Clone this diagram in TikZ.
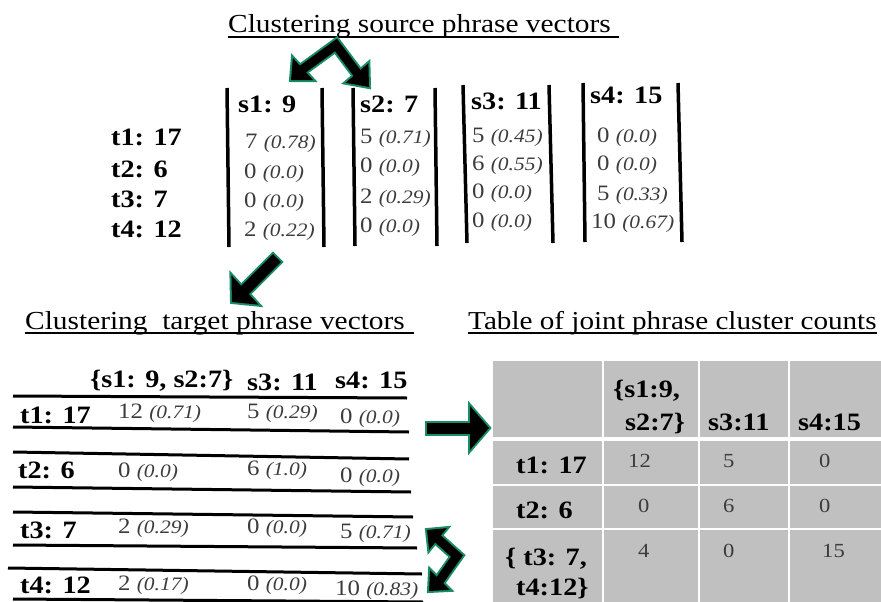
\documentclass[tikz,border=0pt]{standalone}
\usepackage{fontspec}
\setmainfont{Liberation Serif}[FakeStretch=1.13]
\usetikzlibrary{calc}
\definecolor{valgray}{RGB}{60,60,60}
\definecolor{edgegreen}{RGB}{25,140,105}
\definecolor{cellgray}{RGB}{192,192,192}

% count with its share in brackets
\newcommand\pv[2]{#1 {\fontsize{19}{19}\selectfont\itshape(#2)}}
% triangular head of a block arrow: base centre, tip, half width
\newcommand\headpath[3]{(#2) -- ($(#1)!#3!90:(#2)$) -- ($(#1)!#3!-90:(#2)$) -- cycle}

\begin{document}
\begin{tikzpicture}[x=1pt,y=-1pt,
  lbl/.style={anchor=base west, inner sep=0pt, font=\fontsize{25}{25}\selectfont\bfseries},
  num/.style={anchor=base west, inner sep=0pt, text=valgray, font=\fontsize{22}{22}\selectfont},
  cnt/.style={anchor=base west, inner sep=0pt, text=valgray, font=\fontsize{20}{20}\selectfont},
  heading/.style={anchor=base west, inner sep=0pt, font=\fontsize{26}{26}\selectfont},
  uline/.style={line width=1.4pt},
  colbar/.style={line width=3.5pt},
  rowrule/.style={line width=3pt},
  rimline/.style={draw=edgegreen, line cap=rect, line join=miter},
  coreline/.style={draw=black, line cap=rect, line join=miter},
  rimhead/.style={fill=edgegreen, draw=edgegreen, line width=4pt, line join=miter},
  gridline/.style={white, line width=2pt},
]
\useasboundingbox (0,0) rectangle (881,602);

% ---------- source phrase vectors ----------
\node[heading] (ttlsrc) at (228,33) {Clustering source phrase vectors};
\draw[uline] ([yshift=-4pt]ttlsrc.base west) -- ([yshift=-4pt,xshift=8pt]ttlsrc.base east);

% column brackets
\draw[colbar] (227,88) -- (229,247);
\draw[colbar] (322,88) -- (324,247);
\draw[colbar] (353,88) -- (355,246);
\draw[colbar] (435,88) -- (437,246);
\draw[colbar] (463,85) -- (467,243);
\draw[colbar] (549,85) -- (553,243);
\draw[colbar] (583,83) -- (585,242);
\draw[colbar] (678,83) -- (682,242);

\node[lbl] (hs1) at (238,113) {s1: 9};
\node[lbl] (hs2) at (360,113) {s2: 7};
\node[lbl] (hs3) at (471,110) {s3: 11};
\node[lbl] (hs4) at (590,103) {s4: 15};

\node[lbl] (rt1) at (111,145) {t1: 17};
\node[lbl] (rt2) at (111,177) {t2: 6};
\node[lbl] (rt3) at (111,207) {t3: 7};
\node[lbl] (rt4) at (111,237) {t4: 12};

\node[num] (a11) at (245,148) {\pv{7}{0.78}};
\node[num] (a21) at (244,178) {\pv{0}{0.0}};
\node[num] (a31) at (244,207) {\pv{0}{0.0}};
\node[num] (a41) at (244,236) {\pv{2}{0.22}};

\node[num] (a12) at (360,143) {\pv{5}{0.71}};
\node[num] (a22) at (360,172) {\pv{0}{0.0}};
\node[num] (a32) at (360,203) {\pv{2}{0.29}};
\node[num] (a42) at (360,232) {\pv{0}{0.0}};

\node[num] (a13) at (472,142) {\pv{5}{0.45}};
\node[num] (a23) at (472,170) {\pv{6}{0.55}};
\node[num] (a33) at (472,198) {\pv{0}{0.0}};
\node[num] (a43) at (472,227) {\pv{0}{0.0}};

\node[num] (a14) at (597,142) {\pv{0}{0.0}};
\node[num] (a24) at (597,170) {\pv{0}{0.0}};
\node[num] (a34) at (597,200) {\pv{5}{0.33}};
\node[num] (a44) at (591,228) {\pv{10}{0.67}};

% ---------- target phrase vectors ----------
\node[heading] (ttltgt) at (25,329) {Clustering\ \ target phrase vectors};
\draw[uline] ([yshift=-4pt]ttltgt.base west) -- ([yshift=-4pt,xshift=9pt]ttltgt.base east);

\node[lbl] (hc12) at (90,387) {\{s1: 9, s2:7\}};
\node[lbl] (hc3) at (247,390) {s3: 11};
\node[lbl] (hc4) at (335,388) {s4: 15};

\draw[rowrule] (13,396) -- (407,398);
\draw[rowrule] (13,427) -- (409,432);
\draw[rowrule] (13,452) -- (409,459);
\draw[rowrule] (13,487) -- (411,492);
\draw[rowrule] (13,512) -- (413,517);
\draw[rowrule] (13,545) -- (417,548);
\draw[rowrule] (8,568) -- (422,574);
\draw[rowrule] (13,599) -- (423,602);

\node[lbl] (bt1) at (20,423) {t1: 17};
\node[lbl] (bt2) at (18,478) {t2: 6};
\node[lbl] (bt3) at (20,538) {t3: 7};
\node[lbl] (bt4) at (20,593) {t4: 12};

\node[num] (b11) at (118,418) {\pv{12}{0.71}};
\node[num] (b12) at (247,418) {\pv{5}{0.29}};
\node[num] (b13) at (340,423) {\pv{0}{0.0}};
\node[num] (b21) at (118,477) {\pv{0}{0.0}};
\node[num] (b22) at (247,475) {\pv{6}{1.0}};
\node[num] (b23) at (340,482) {\pv{0}{0.0}};
\node[num] (b31) at (118,533) {\pv{2}{0.29}};
\node[num] (b32) at (247,533) {\pv{0}{0.0}};
\node[num] (b33) at (340,538) {\pv{5}{0.71}};
\node[num] (b41) at (118,590) {\pv{2}{0.17}};
\node[num] (b42) at (247,590) {\pv{0}{0.0}};
\node[num] (b43) at (335,595) {\pv{10}{0.83}};

% ---------- joint cluster counts ----------
\node[heading, font=\fontsize{25.8}{25.8}\selectfont] (ttljoint) at (468,329) {Table of joint phrase cluster counts};
\draw[uline] ([yshift=-4pt]ttljoint.base west) -- ([yshift=-4pt]ttljoint.base east);

\fill[cellgray] (493,361) rectangle (881,602);
\draw[gridline] (603,361) -- (603,602);
\draw[gridline] (699,361) -- (699,602);
\draw[gridline] (789,361) -- (789,602);
\draw[gridline, line width=3.5pt] (493,439) -- (881,439);
\draw[gridline] (493,485) -- (881,485);
\draw[gridline] (493,529) -- (881,529);

\node[lbl] (jh1a) at (613,397) {\{s1:9,};
\node[lbl] (jh1b) at (625,430) {s2:7\}};
\node[lbl] (jh2) at (708,430) {s3:11};
\node[lbl] (jh3) at (798,430) {s4:15};

\node[lbl] (jr1) at (516,473) {t1: 17};
\node[lbl] (jr2) at (516,518) {t2: 6};
\node[lbl] (jr3a) at (505,565) {\{ t3: 7,};
\node[lbl] (jr3b) at (516,595) {t4:12\}};

\node[cnt] (c11) at (628,467) {12};
\node[cnt] (c12) at (723,467) {5};
\node[cnt] (c13) at (819,467) {0};
\node[cnt] (c21) at (638,512) {0};
\node[cnt] (c22) at (723,512) {6};
\node[cnt] (c23) at (819,512) {0};
\node[cnt] (c31) at (638,557) {4};
\node[cnt] (c32) at (723,557) {0};
\node[cnt] (c33) at (822,557) {15};

% ---------- block arrows ----------
% forked arrow under the first heading
\coordinate (fa) at (336,45);
\coordinate (fl) at (303,69);  \coordinate (flt) at (291,80);
\coordinate (fr) at (357,73);  \coordinate (frt) at (369,87);
% arrow down to the target vectors
\coordinate (ds) at (273,262); \coordinate (db) at (245,290); \coordinate (dt) at (232,302);
% arrow into the joint table
\coordinate (rs) at (432,428); \coordinate (rb) at (470,428); \coordinate (rtip) at (489,428);
% forked arrow joining rows t3 and t4
\coordinate (ja) at (457,556);
\coordinate (ju) at (438,539); \coordinate (jut) at (427,530);
\coordinate (jd) at (440,580); \coordinate (jdt) at (429,591);

% green rims first
\draw[rimline, line width=13pt] (fl) -- (fa) -- (fr);
\draw[rimline, line width=15pt] (ds) -- (db);
\draw[rimline, line width=15pt] (rs) -- (rb);
\draw[rimline, line width=13pt] (ju) -- (ja) -- (jd);
\filldraw[rimhead] \headpath{fl}{flt}{15pt} \headpath{fr}{frt}{15pt};
\filldraw[rimhead] \headpath{db}{dt}{20pt};
\filldraw[rimhead] \headpath{rb}{rtip}{22pt};
\filldraw[rimhead] \headpath{ju}{jut}{14pt} \headpath{jd}{jdt}{14pt};

% black cores on top
\draw[coreline, line width=9pt] (fl) -- (fa) -- (fr);
\draw[coreline, line width=11pt] (ds) -- (db);
\draw[coreline, line width=11pt] (rs) -- (rb);
\draw[coreline, line width=9pt] (ju) -- (ja) -- (jd);
\fill[black] \headpath{fl}{flt}{15pt} \headpath{fr}{frt}{15pt};
\fill[black] \headpath{db}{dt}{20pt};
\fill[black] \headpath{rb}{rtip}{22pt};
\fill[black] \headpath{ju}{jut}{14pt} \headpath{jd}{jdt}{14pt};
\end{tikzpicture}
\end{document}
